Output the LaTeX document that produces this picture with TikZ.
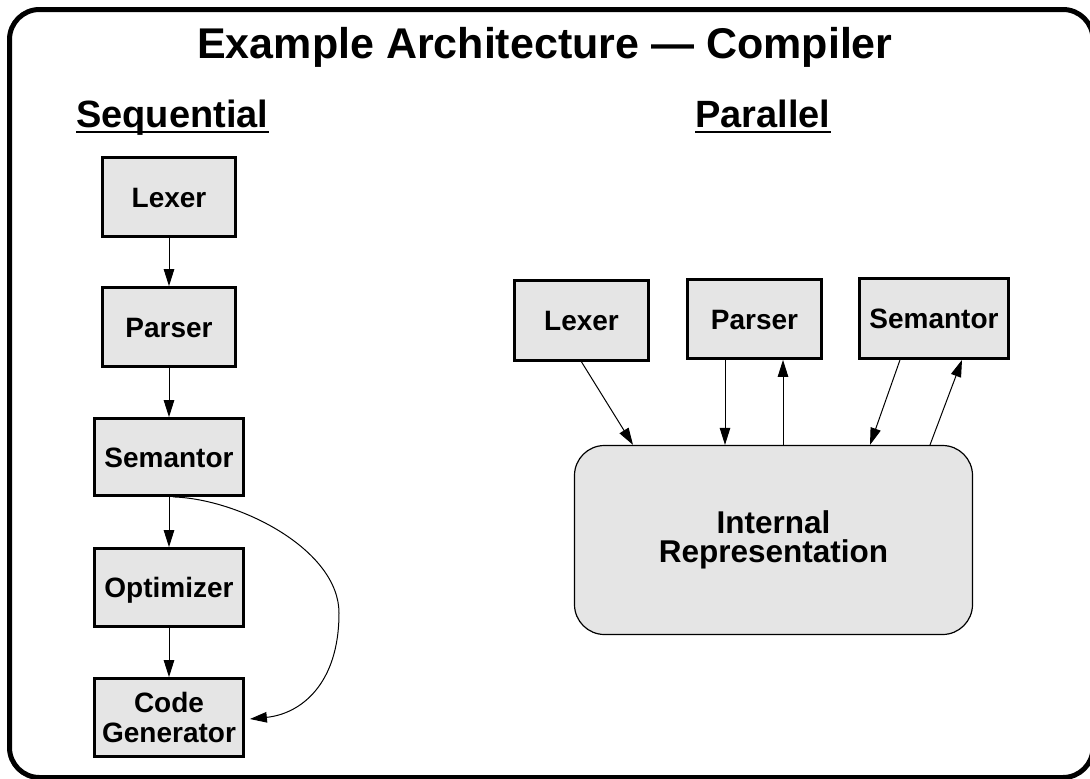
\documentclass[tikz,border=0pt]{standalone}
\usepackage{fontspec}
\setmainfont{Liberation Sans}
\usetikzlibrary{arrows.meta}
\begin{document}
\begin{tikzpicture}[x=1pt,y=-1pt,
  stagebase/.style={draw, line width=2.8pt, fill=gray!20, inner sep=0pt,
    align=center, font=\fontsize{28}{30}\selectfont\bfseries},
  stagebox/.style={stagebase, text height=20pt, text depth=0pt},
  arr/.style={line width=1pt, -{Triangle[length=17pt,width=10.5pt]}},
  heading/.style={inner sep=0pt, anchor=base west,
    font=\fontsize{38}{40}\selectfont\bfseries},
  underl/.style={line width=2pt}
]
\useasboundingbox (0,0) rectangle (1090,779);

% outer frame, partly running off the page on the right and bottom
\begin{scope}
  \clip (0,0) rectangle (1090,779);
  \draw[line width=5pt, rounded corners=30pt] (9.5,9.5) rectangle (1093,777.5);
\end{scope}

% title and headings
\node[inner sep=0pt, anchor=base, font=\fontsize{43}{45}\selectfont\bfseries]
  (title) at (545,58) {Example Architecture — Compiler};
\node[heading] (seqhead) at (76,127) {Sequential};
\draw[underl] ([yshift=-4.5pt]seqhead.base west) -- ([yshift=-4.5pt]seqhead.base east);
\node[heading] (parhead) at (695,127) {Parallel};
\draw[underl] ([yshift=-4.5pt]parhead.base west) -- ([yshift=-4.5pt]parhead.base east);

% sequential pipeline
\node[stagebox, minimum width=133pt, minimum height=79pt] (slex) at (169,197) {Lexer};
\node[stagebox, minimum width=133pt, minimum height=79pt] (spar) at (169,327) {Parser};
\node[stagebox, minimum width=149pt, minimum height=77pt] (ssem) at (169,457) {Semantor};
\node[stagebox, minimum width=149pt, minimum height=78pt] (sopt) at (169,587.5) {Optimizer};
\node[stagebase, minimum width=149pt, minimum height=78pt] (scode) at (169,717.5) {Code\\Generator};

\draw[arr] (slex.south) -- (spar.north);
\draw[arr] (spar.south) -- (ssem.north);
\draw[arr] (ssem.south) -- (sopt.north);
\draw[arr] (sopt.south) -- (scode.north);

% bypass from the semantor straight to the code generator
\coordinate (bypassend) at ([xshift=5pt,yshift=-1.5pt]scode.east);
\draw[arr] ([xshift=4pt]ssem.south) .. controls (240,499) and (339,550) .. (339,613)
  .. controls (339,685) and (300,714) .. (bypassend);

% parallel arrangement around a shared representation
\node[stagebox, minimum width=134pt, minimum height=80pt] (plex) at (581.5,320.5) {Lexer};
\node[stagebox, minimum width=134pt, minimum height=79pt] (ppar) at (754.5,319) {Parser};
\node[stagebox, minimum width=149pt, minimum height=80pt] (psem) at (934,318.5) {Semantor};
\node[draw, line width=1.2pt, fill=gray!20, rounded corners=30pt, inner sep=0pt,
  minimum width=398pt, minimum height=189pt, align=center,
  font=\fontsize{31.5}{29}\selectfont\bfseries] (ir) at (773.5,540)
  {Internal\\Representation};

\draw[arr] (plex.south) -- ([xshift=-140.5pt]ir.north);
\draw[arr] ([xshift=-29.5pt]ppar.south) -- ([xshift=-29.5pt]ppar.south |- ir.north);
\draw[arr] ([xshift=28.5pt]ppar.south |- ir.north) -- ([xshift=28.5pt]ppar.south);
\draw[arr] ([xshift=-34pt]psem.south) -- ([xshift=96.5pt]ir.north);
\draw[arr] ([xshift=156.5pt]ir.north) -- ([xshift=28pt]psem.south);
\end{tikzpicture}
\end{document}
